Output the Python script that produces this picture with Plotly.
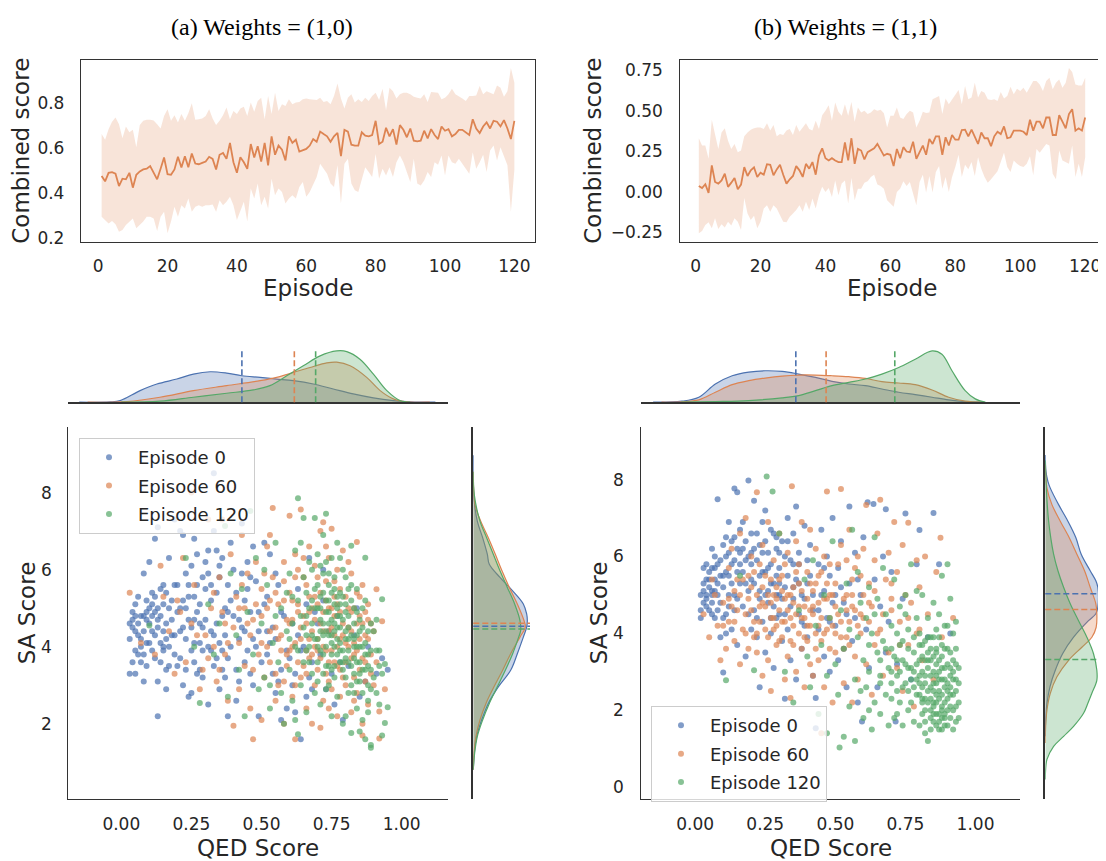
import plotly.graph_objects as go

W, H = 1106, 861          # browser window
OFF = 8                   # default page margin around the figure
FW, FH = W - OFF, H - OFF  # figure size
BLUE, ORANGE, GREEN = '#4C72B0', '#DD8452', '#55A868'
RGBA = {BLUE: '76,114,176', ORANGE: '221,132,82', GREEN: '85,168,104'}
TXT = '#262626'
SPINE = '#333333'
FONT = 'DejaVu Sans'

# ---------------- data: combined score curves ----------------
episodes = list(range(1, 121))

mean_a = [0.474, 0.45, 0.488, 0.491, 0.484, 0.429, 0.462, 0.459, 0.488, 0.422,
          0.479, 0.494, 0.503, 0.506, 0.518, 0.491, 0.459, 0.506, 0.556, 0.482,
          0.479, 0.503, 0.559, 0.512, 0.562, 0.513, 0.574, 0.529, 0.526, 0.532,
          0.538, 0.559, 0.55, 0.503, 0.568, 0.576, 0.55, 0.621, 0.535, 0.488,
          0.557, 0.535, 0.506, 0.616, 0.556, 0.606, 0.538, 0.621, 0.521, 0.65,
          0.568, 0.609, 0.591, 0.543, 0.65, 0.621, 0.635, 0.582, 0.587, 0.594,
          0.609, 0.638, 0.626, 0.671, 0.66, 0.65, 0.626, 0.65, 0.665, 0.562,
          0.679, 0.671, 0.613, 0.609, 0.609, 0.668, 0.653, 0.65, 0.656, 0.719,
          0.616, 0.626, 0.688, 0.65, 0.682, 0.613, 0.7, 0.679, 0.646, 0.685,
          0.631, 0.628, 0.631, 0.675, 0.641, 0.682, 0.656, 0.638, 0.694, 0.675,
          0.682, 0.65, 0.66, 0.679, 0.679, 0.668, 0.656, 0.726, 0.685, 0.665,
          0.694, 0.712, 0.685, 0.719, 0.715, 0.694, 0.722, 0.685, 0.638, 0.719]
upper_a = [0.66, 0.635, 0.682, 0.715, 0.734, 0.704, 0.641, 0.694, 0.668, 0.679,
           0.601, 0.7, 0.719, 0.724, 0.724, 0.721, 0.704, 0.685, 0.741, 0.771,
           0.719, 0.744, 0.712, 0.749, 0.719, 0.753, 0.797, 0.724, 0.726, 0.729,
           0.741, 0.771, 0.729, 0.7, 0.719, 0.744, 0.778, 0.726, 0.763, 0.749,
           0.774, 0.782, 0.741, 0.8, 0.759, 0.807, 0.822, 0.726, 0.829, 0.749,
           0.844, 0.763, 0.793, 0.785, 0.815, 0.793, 0.8, 0.803, 0.815, 0.818,
           0.815, 0.815, 0.812, 0.822, 0.803, 0.807, 0.793, 0.829, 0.885, 0.818,
           0.774, 0.822, 0.837, 0.8, 0.815, 0.803, 0.822, 0.807, 0.829, 0.844,
           0.812, 0.862, 0.766, 0.866, 0.851, 0.818, 0.837, 0.844, 0.844, 0.837,
           0.826, 0.822, 0.818, 0.837, 0.803, 0.847, 0.844, 0.844, 0.815, 0.822,
           0.837, 0.862, 0.837, 0.829, 0.818, 0.807, 0.829, 0.829, 0.832, 0.874,
           0.837, 0.851, 0.844, 0.837, 0.876, 0.866, 0.826, 0.851, 0.954, 0.888]
lower_a = [0.293, 0.278, 0.263, 0.274, 0.259, 0.226, 0.234, 0.256, 0.271, 0.285,
           0.241, 0.256, 0.271, 0.293, 0.293, 0.285, 0.229, 0.293, 0.315, 0.219,
           0.271, 0.337, 0.293, 0.344, 0.329, 0.374, 0.315, 0.337, 0.344, 0.337,
           0.344, 0.344, 0.347, 0.315, 0.366, 0.344, 0.359, 0.381, 0.344, 0.278,
           0.315, 0.359, 0.271, 0.418, 0.374, 0.44, 0.344, 0.381, 0.329, 0.462,
           0.388, 0.418, 0.403, 0.351, 0.374, 0.388, 0.374, 0.425, 0.447, 0.381,
           0.403, 0.44, 0.469, 0.528, 0.506, 0.484, 0.44, 0.425, 0.521, 0.351,
           0.528, 0.55, 0.44, 0.41, 0.403, 0.462, 0.513, 0.491, 0.469, 0.572,
           0.462, 0.506, 0.476, 0.513, 0.469, 0.535, 0.565, 0.535, 0.488, 0.447,
           0.55, 0.44, 0.432, 0.454, 0.491, 0.469, 0.535, 0.524, 0.565, 0.476,
           0.565, 0.535, 0.528, 0.55, 0.528, 0.506, 0.484, 0.579, 0.506, 0.535,
           0.568, 0.491, 0.587, 0.609, 0.543, 0.601, 0.565, 0.521, 0.315, 0.50]

mean_b = [0.037, 0.024, 0.047, -0.006, 0.163, 0.061, 0.051, 0.071, 0.112, 0.031,
          0.057, 0.086, 0.016, 0.045, 0.153, 0.098, 0.133, 0.151, 0.092, 0.118,
          0.106, 0.171, 0.167, 0.102, 0.139, 0.167, 0.106, 0.051, 0.078, 0.098,
          0.159, 0.133, 0.092, 0.173, 0.143, 0.184, 0.106, 0.224, 0.269, 0.208,
          0.194, 0.208, 0.194, 0.184, 0.184, 0.306, 0.194, 0.331, 0.173, 0.265,
          0.255, 0.2, 0.245, 0.255, 0.269, 0.296, 0.255, 0.224, 0.235, 0.229,
          0.159, 0.265, 0.208, 0.276, 0.249, 0.245, 0.31, 0.204, 0.245, 0.286,
          0.229, 0.327, 0.296, 0.343, 0.343, 0.229, 0.337, 0.286, 0.351, 0.322,
          0.322, 0.382, 0.384, 0.343, 0.384, 0.343, 0.296, 0.367, 0.331, 0.331,
          0.282, 0.343, 0.371, 0.357, 0.404, 0.331, 0.337, 0.378, 0.378, 0.378,
          0.371, 0.351, 0.445, 0.378, 0.433, 0.433, 0.392, 0.459, 0.459, 0.351,
          0.351, 0.473, 0.433, 0.392, 0.48, 0.51, 0.378, 0.392, 0.378, 0.459]
upper_b = [0.331, 0.286, 0.286, 0.204, 0.445, 0.357, 0.265, 0.367, 0.392, 0.316,
           0.265, 0.296, 0.245, 0.255, 0.343, 0.367, 0.384, 0.392, 0.398, 0.398,
           0.388, 0.424, 0.378, 0.412, 0.343, 0.357, 0.351, 0.378, 0.388, 0.351,
           0.412, 0.371, 0.398, 0.424, 0.388, 0.378, 0.439, 0.388, 0.473, 0.5,
           0.535, 0.439, 0.551, 0.494, 0.469, 0.541, 0.469, 0.555, 0.433, 0.52,
           0.49, 0.5, 0.48, 0.49, 0.51, 0.5, 0.506, 0.485, 0.398, 0.469,
           0.47, 0.52, 0.459, 0.449, 0.48, 0.5, 0.49, 0.398, 0.439, 0.494,
           0.486, 0.49, 0.571, 0.582, 0.592, 0.48, 0.576, 0.541, 0.571, 0.596,
           0.629, 0.541, 0.653, 0.571, 0.582, 0.673, 0.582, 0.622, 0.612, 0.571,
           0.567, 0.571, 0.561, 0.616, 0.576, 0.592, 0.649, 0.602, 0.637, 0.622,
           0.643, 0.612, 0.653, 0.684, 0.684, 0.663, 0.622, 0.684, 0.704, 0.633,
           0.673, 0.694, 0.643, 0.673, 0.765, 0.739, 0.663, 0.657, 0.657, 0.704]
lower_b = [-0.255, -0.241, -0.204, -0.188, -0.224, -0.163, -0.229, -0.2, -0.22, -0.184,
           -0.208, -0.163, -0.184, -0.235, -0.037, -0.133, -0.173, -0.147, -0.224, -0.184,
           -0.102, -0.082, -0.122, -0.082, -0.102, -0.139, -0.184, -0.188, -0.153, -0.133,
           -0.112, -0.082, -0.122, -0.061, -0.112, -0.041, -0.102, -0.02, 0.031, 0.0,
           0.024, -0.031, 0.071, -0.02, 0.051, 0.071, -0.071, 0.086, -0.051, 0.02,
           0.02, 0.057, 0.065, 0.092, 0.106, 0.045, 0.037, 0.02, -0.051, -0.071,
           -0.092, 0.0, 0.02, 0.065, 0.037, 0.061, -0.01, -0.082, 0.061, 0.106,
           -0.004, 0.098, -0.004, 0.122, 0.159, 0.02, 0.092, 0.0, 0.092, 0.153,
           0.229, 0.092, 0.167, 0.139, 0.184, 0.098, 0.214, 0.143, 0.092, 0.057,
           0.078, 0.106, 0.127, 0.184, 0.241, 0.153, 0.122, 0.194, 0.173, 0.159,
           0.153, 0.173, 0.22, 0.102, 0.265, 0.241, 0.265, 0.296, 0.286, 0.112,
           0.078, 0.255, 0.194, 0.184, 0.173, 0.286, 0.092, 0.173, 0.092, 0.214]

# ---------------- data: QED / SA samples (panel a) ----------------
a_ep0 = [(0.03,4.2),(0.03,3.3),(0.05,3.3),(0.04,4.9),(0.06,4.6),(0.07,4.0),(0.08,5.9),(0.05,4.4),(0.09,4.7),(0.07,3.6),(0.09,5.2),(0.08,3.1),
         (0.04,4.5),(0.06,4.3),(0.08,4.8),(0.10,4.6),(0.12,4.3),(0.14,4.8),(0.16,4.2),(0.05,3.9),(0.09,4.1),(0.13,5.0),
         (0.10,6.2),(0.12,6.8),(0.13,7.1),(0.13,2.2),(0.11,4.4),(0.12,4.9),(0.14,4.1),(0.15,5.6),(0.16,4.6),(0.17,3.5),(0.18,5.2),(0.19,7.3),(0.13,3.1),(0.15,3.9),(0.17,6.3),(0.11,5.4),(0.19,4.3),(0.16,2.9),
         (0.21,7.0),(0.22,6.9),(0.23,5.9),(0.24,4.7),(0.25,3.9),(0.26,5.3),(0.27,6.4),(0.28,4.1),(0.22,3.0),(0.24,2.7),(0.29,5.8),(0.21,4.4),(0.26,6.8),(0.28,3.4),(0.23,5.0),(0.27,4.9),(0.25,2.8),(0.29,4.5),(0.20,5.6),(0.26,3.6),
         (0.31,6.5),(0.32,5.2),(0.33,4.3),(0.34,3.7),(0.35,6.1),(0.36,4.8),(0.37,3.2),(0.38,5.6),(0.39,4.0),(0.31,2.5),(0.33,7.0),(0.35,2.9),(0.37,5.0),(0.39,6.7),(0.34,4.6),(0.36,3.4),(0.32,3.9),(0.38,2.2),(0.30,5.5),(0.35,5.8),(0.33,8.5),
         (0.41,5.4),(0.42,4.2),(0.43,7.2),(0.44,3.6),(0.45,6.2),(0.46,4.9),(0.47,3.0),(0.48,5.7),(0.49,4.4),(0.41,2.6),(0.43,5.9),(0.45,3.9),(0.47,6.6),(0.49,2.2),(0.42,4.7),(0.44,5.2),(0.46,3.3),(0.48,4.0),(0.40,6.0),
         (0.51,5.1),(0.52,3.8),(0.53,6.4),(0.54,4.5),(0.55,2.8),(0.56,5.6),(0.57,3.4),(0.58,4.8),(0.59,2.4),(0.51,6.7),(0.53,4.1),(0.55,5.9),(0.57,2.1),(0.59,3.9),(0.52,4.4),(0.56,3.1),
         (0.61,4.6),(0.62,3.3),(0.63,5.5),(0.64,1.6),(0.65,4.0),(0.66,2.7),(0.67,6.3),(0.68,3.6),(0.69,4.9),(0.62,2.3),(0.64,3.9),(0.66,5.1),(0.68,2.9),
         (0.71,3.8),(0.72,5.2),(0.73,2.9),(0.74,4.4),(0.75,3.3),(0.76,2.5),(0.77,4.8),(0.78,3.6),(0.79,2.1),(0.72,6.0),
         (0.81,3.5),(0.83,4.3),(0.85,2.7),(0.87,3.1),(0.88,4.0),(0.84,5.0),(0.91,3.3),(0.93,3.7),(0.95,3.4),
         (0.04,4.7),(0.05,5.1),(0.06,3.8),(0.07,4.8),(0.08,4.4),(0.09,3.5),(0.10,5.0),(0.11,3.9),(0.11,4.8),(0.12,5.3),(0.13,4.5),(0.14,3.6),(0.15,4.4),(0.15,5.1),(0.16,5.4),(0.17,4.0),(0.18,4.7),(0.19,3.8),(0.20,4.9),(0.21,3.7),(0.22,5.2),(0.23,4.2),(0.24,5.6),(0.25,4.5),(0.26,4.1),(0.27,3.3),(0.28,5.1),(0.29,3.9),(0.30,4.7),(0.31,5.9),(0.32,4.4),(0.33,3.5),(0.34,5.4),(0.35,4.1),(0.36,6.3),(0.37,4.3),(0.38,3.7),(0.40,4.8),(0.41,3.4),(0.43,4.5),(0.45,5.5),(0.47,4.2),(0.50,3.6),(0.52,5.3),(0.54,3.3),(0.57,4.9),(0.60,3.7),(0.63,4.3),(0.67,3.2),(0.70,4.6),
         (0.03,4.6),(0.04,3.6),(0.05,4.8),(0.06,5.3),(0.07,4.2),(0.08,3.8),(0.09,4.9),(0.10,4.1),(0.11,5.1),(0.12,3.7),(0.13,4.7),(0.14,5.5),(0.15,4.0),(0.16,3.4),(0.17,5.0),(0.18,4.3),(0.19,5.6),(0.20,3.5),(0.21,5.0),(0.22,4.5),(0.23,3.4),(0.24,5.3),(0.25,6.1),(0.26,4.7),(0.27,5.6),(0.28,4.6),(0.29,3.2),(0.30,6.2),(0.31,4.0),(0.32,5.6),(0.34,6.5),(0.36,3.9),(0.38,4.9),(0.39,5.2),(0.42,3.1),(0.44,4.4),(0.46,5.8),(0.49,4.9),(0.55,4.2),(0.61,3.0)]
a_ep60 = [(0.03,5.4),(0.07,4.1),
          (0.12,3.8),(0.15,5.3),(0.17,4.4),(0.19,3.3),(0.14,6.1),
          (0.21,4.9),(0.23,3.6),(0.25,8.0),(0.26,5.6),(0.27,4.3),(0.28,2.9),(0.22,6.3),(0.29,3.4),
          (0.31,7.3),(0.32,5.0),(0.33,4.0),(0.34,3.1),(0.35,5.8),(0.36,7.3),(0.37,4.6),(0.38,2.6),(0.39,6.4),(0.31,3.7),(0.36,4.9),
          (0.40,1.95),(0.41,5.3),(0.42,4.1),(0.43,6.9),(0.44,3.5),(0.45,5.9),(0.46,2.4),(0.47,1.6),(0.47,4.7),(0.48,6.2),(0.49,3.8),(0.42,2.9),(0.44,5.0),(0.46,4.3),
          (0.50,5.5),(0.51,3.2),(0.52,6.6),(0.53,4.4),(0.54,7.6),(0.55,2.6),(0.56,5.1),(0.57,3.9),(0.58,6.2),(0.59,4.7),(0.50,2.1),(0.52,4.0),(0.54,5.8),(0.56,3.0),(0.58,2.0),(0.53,6.9),(0.55,4.5),(0.59,3.5),
          (0.60,7.4),(0.61,5.2),(0.62,1.6),(0.62,4.1),(0.63,6.0),(0.64,7.56),(0.64,3.2),(0.65,4.8),(0.66,2.4),(0.66,5.6),(0.67,3.7),(0.67,6.6),(0.68,4.4),(0.68,2.0),(0.69,5.3),(0.69,3.0),(0.60,4.6),(0.61,2.7),(0.63,3.6),(0.65,6.3),(0.67,4.9),(0.69,4.0),(0.62,5.8),(0.66,3.3),
          (0.70,5.8),(0.70,3.4),(0.71,4.6),(0.71,7.0),(0.72,7.23),(0.72,2.6),(0.73,5.2),(0.73,3.9),(0.74,4.4),(0.74,6.3),(0.75,7.06),(0.75,2.9),(0.75,5.0),(0.76,3.6),(0.76,4.8),(0.77,6.0),(0.77,2.2),(0.78,4.2),(0.78,5.5),(0.79,3.2),(0.79,6.5),(0.70,4.2),(0.72,4.9),(0.74,3.1),(0.76,5.7),(0.78,2.7),(0.71,1.9),(0.73,6.6),(0.77,4.0),
          (0.80,5.3),(0.80,3.0),(0.81,4.5),(0.81,6.2),(0.82,3.7),(0.82,2.3),(0.83,5.0),(0.83,4.1),(0.84,6.72),(0.84,2.8),(0.85,4.8),(0.85,3.4),(0.86,5.6),(0.86,2.0),(0.87,4.3),(0.87,3.1),(0.88,5.1),(0.88,2.5),(0.89,3.8),(0.89,4.6),(0.82,5.9),(0.84,3.9),(0.86,1.7),
          (0.91,5.49),(0.92,1.62),(0.92,2.32),(0.93,4.66),(0.91,3.6),(0.94,2.9),
          (0.45,4.6),(0.48,5.1),(0.50,4.1),(0.52,5.0),(0.53,3.6),(0.55,5.4),(0.57,4.3),(0.58,5.2),(0.60,3.9),(0.61,4.7),(0.62,6.4),(0.63,4.9),(0.64,4.2),(0.65,3.5),(0.66,4.6),(0.67,5.3),(0.68,3.8),(0.69,6.1),(0.70,5.1),(0.71,3.7),(0.72,4.0),(0.73,5.7),(0.74,3.6),(0.75,4.5),(0.76,4.3),(0.77,5.1),(0.78,3.4),(0.79,4.6),(0.80,4.1),(0.81,5.0),(0.82,4.4),(0.83,3.2),(0.84,4.6),(0.85,5.3),(0.86,3.7),(0.87,4.9),(0.88,4.2),(0.89,3.3),(0.90,4.4),(0.30,4.3),(0.33,5.4),(0.37,3.8),(0.40,4.5),(0.43,5.6),(0.25,4.6),(0.20,5.2),(0.35,3.4),(0.58,3.1),(0.74,2.4),(0.83,2.6),
          (0.47,3.4),(0.50,4.8),(0.51,5.9),(0.53,5.2),(0.55,3.3),(0.56,4.2),(0.58,5.7),(0.59,3.8),(0.60,5.4),(0.61,4.0),(0.62,3.0),(0.63,5.1),(0.64,4.5),(0.65,5.8),(0.66,3.9),(0.67,4.2),(0.68,5.0),(0.69,4.7),(0.70,3.9),(0.71,5.4),(0.72,4.4),(0.73,3.3),(0.74,5.0),(0.75,3.9),(0.76,5.3),(0.77,3.5),(0.78,4.9),(0.79,4.3),(0.80,3.6),(0.81,4.0),(0.82,4.9),(0.83,3.8),(0.84,5.4),(0.85,4.2),(0.86,4.6),(0.87,3.6),(0.88,4.7),(0.90,3.0),(0.38,4.1),(0.42,5.0)]
a_ep120 = [(0.10,4.55),(0.23,6.3),(0.28,2.54),(0.26,4.0),
           (0.37,7.13),(0.31,5.1),(0.33,3.8),(0.35,4.6),(0.38,2.7),(0.39,5.9),
           (0.46,7.52),(0.41,4.3),(0.42,3.4),(0.43,5.5),(0.44,2.2),(0.45,4.9),(0.47,3.8),(0.48,6.3),(0.49,2.9),
           (0.50,4.6),(0.51,3.2),(0.52,5.6),(0.53,2.4),(0.54,4.1),(0.55,6.7),(0.56,3.6),(0.57,5.0),(0.58,2.0),(0.59,4.4),(0.51,6.0),(0.53,3.0),(0.55,4.8),(0.57,2.8),(0.59,5.4),
           (0.60,5.9),(0.60,3.4),(0.61,4.6),(0.61,2.6),(0.62,6.5),(0.62,4.0),(0.63,7.85),(0.63,1.73),(0.63,5.2),(0.64,3.0),(0.64,4.8),(0.65,7.34),(0.65,5.8),(0.65,3.6),(0.66,4.3),(0.66,2.3),(0.67,6.2),(0.67,5.0),(0.68,3.3),(0.68,4.6),(0.69,7.34),(0.69,5.5),(0.69,2.8),(0.61,5.3),(0.64,6.7),(0.66,3.9),(0.68,6.0),(0.62,2.1),
           (0.70,4.2),(0.70,6.4),(0.70,3.1),(0.71,5.3),(0.71,4.7),(0.71,2.5),(0.72,5.9),(0.72,3.8),(0.72,6.9),(0.73,7.45),(0.73,4.4),(0.73,2.9),(0.74,5.6),(0.74,3.5),(0.74,4.9),(0.75,6.3),(0.75,4.1),(0.75,2.2),(0.76,5.1),(0.76,3.2),(0.76,5.8),(0.77,4.5),(0.77,6.7),(0.77,2.7),(0.78,3.9),(0.78,5.4),(0.78,4.8),(0.79,3.4),(0.79,6.0),(0.79,2.0),(0.70,5.0),(0.72,4.6),(0.74,3.0),(0.76,4.0),(0.78,3.6),(0.71,6.1),(0.73,5.2),(0.75,4.7),(0.77,5.3),
           (0.80,4.9),(0.80,3.7),(0.80,5.8),(0.81,4.2),(0.81,2.8),(0.82,6.62),(0.82,1.76),(0.82,5.2),(0.83,3.3),(0.83,4.6),(0.84,5.5),(0.84,2.4),(0.85,1.8),(0.85,4.0),(0.85,3.1),(0.86,5.0),(0.86,2.1),(0.87,1.6),(0.87,3.8),(0.87,6.31),(0.88,4.4),(0.88,2.6),(0.89,1.38),(0.89,1.45),(0.89,3.4),(0.81,5.5),(0.83,4.0),(0.84,3.6),(0.86,4.5),(0.88,3.0),(0.80,2.2),
           (0.93,5.23),(0.94,2.02),(0.95,2.43),(0.94,3.55),(0.91,2.8),(0.92,3.9),(0.93,1.7),(0.91,4.7),
           (0.65,4.5),(0.66,5.4),(0.67,4.0),(0.68,5.2),(0.69,4.2),(0.70,5.6),(0.70,3.6),(0.71,4.4),(0.72,5.4),(0.72,3.3),(0.73,4.0),(0.73,6.2),(0.74,4.3),(0.74,5.2),(0.75,3.8),(0.75,5.4),(0.76,4.6),(0.76,3.5),(0.77,4.2),(0.77,5.0),(0.78,4.5),(0.78,6.3),(0.79,3.9),(0.79,5.3),(0.80,4.4),(0.80,3.2),(0.81,4.8),(0.81,3.6),(0.82,4.3),(0.82,3.0),(0.83,5.0),(0.83,2.8),(0.84,4.3),(0.84,3.1),(0.85,4.4),(0.85,3.6),(0.86,4.0),(0.86,2.8),(0.87,3.4),(0.87,5.2),(0.88,3.8),(0.88,2.3),(0.89,4.6),(0.89,2.9),(0.90,3.2),(0.91,3.9),(0.92,2.5),(0.93,3.3),(0.60,4.2),(0.63,3.9),
           (0.66,4.8),(0.67,3.6),(0.68,4.3),(0.69,5.0),(0.70,4.0),(0.71,5.0),(0.71,3.9),(0.72,4.3),(0.73,4.9),(0.73,3.5),(0.74,4.6),(0.74,5.9),(0.75,4.3),(0.75,3.4),(0.76,4.4),(0.76,5.5),(0.77,3.8),(0.77,4.8),(0.78,4.1),(0.78,5.1),(0.79,4.7),(0.79,3.6),(0.80,5.1),(0.80,4.2),(0.81,3.9),(0.81,4.5),(0.82,5.6),(0.82,3.5),(0.83,4.2),(0.83,3.7),(0.84,4.9),(0.84,4.0),(0.85,3.3),(0.85,4.7),(0.86,3.4),(0.87,4.1),(0.88,3.5),(0.89,3.9),(0.90,4.4),(0.92,3.5)]

# ---------------- data: QED / SA samples (panel b) ----------------
b_ep0 = [(0.02,4.6),(0.03,5.3),(0.04,4.9),(0.05,5.6),(0.06,5.1),(0.07,4.4),(0.08,5.8),(0.09,4.8),(0.06,6.2),(0.08,7.49),(0.09,3.9),(0.04,5.0),(0.07,5.4),
         (0.10,2.98),(0.10,5.2),(0.11,6.0),(0.11,4.5),(0.12,6.9),(0.12,5.5),(0.13,4.1),(0.13,6.4),(0.14,7.77),(0.14,5.0),(0.15,7.67),(0.15,3.7),(0.16,5.8),(0.16,6.7),(0.17,4.7),(0.17,6.2),(0.18,5.3),(0.18,3.4),(0.19,7.98),(0.19,6.0),(0.11,4.0),(0.14,5.9),
         (0.20,5.4),(0.20,6.6),(0.21,7.45),(0.21,4.6),(0.22,5.9),(0.22,3.9),(0.23,6.3),(0.23,5.1),(0.24,4.3),(0.24,6.9),(0.25,5.6),(0.25,3.5),(0.26,4.8),(0.26,6.1),(0.27,5.3),(0.27,4.0),(0.28,6.6),(0.28,3.1),(0.29,5.0),(0.29,4.4),(0.20,4.1),(0.23,2.6),(0.25,7.2),(0.27,5.8),(0.29,6.2),
         (0.30,5.7),(0.30,4.5),(0.31,6.4),(0.31,3.8),(0.32,5.2),(0.33,7.0),(0.33,4.1),(0.34,5.9),(0.34,3.3),(0.35,4.9),(0.35,6.6),(0.36,5.4),(0.36,2.8),(0.37,4.5),(0.37,6.1),(0.38,3.6),(0.38,5.0),(0.39,6.8),(0.39,4.2),(0.32,2.3),(0.36,7.3),(0.30,5.0),(0.34,4.7),
         (0.40,5.3),(0.40,3.9),(0.41,6.3),(0.42,4.6),(0.42,2.9),(0.43,2.32),(0.43,1.53),(0.44,5.8),(0.44,4.1),(0.45,6.7),(0.46,3.4),(0.46,5.1),(0.47,4.4),(0.47,6.0),(0.48,3.0),(0.48,5.5),(0.49,4.8),(0.49,7.0),
         (0.50,4.2),(0.51,5.7),(0.51,3.3),(0.52,6.4),(0.53,4.8),(0.54,2.6),(0.55,5.3),(0.55,7.3),(0.56,3.8),(0.57,6.1),(0.57,4.4),(0.58,2.2),(0.59,5.0),(0.595,1.71),(0.53,3.6),
         (0.60,6.5),(0.61,4.1),(0.615,7.41),(0.62,3.1),(0.636,7.37),(0.64,5.4),(0.65,2.6),(0.66,4.7),(0.67,6.0),(0.68,3.5),(0.68,7.23),(0.69,4.3),
         (0.70,5.6),(0.715,1.71),(0.72,3.2),(0.74,4.9),(0.75,7.12),(0.77,2.8),(0.79,5.8),
         (0.80,6.69),(0.83,3.9),(0.85,7.13),(0.87,5.8),(0.91,4.0),
         (0.02,5.0),(0.03,4.8),(0.03,5.7),(0.04,5.4),(0.05,4.6),(0.05,5.2),(0.06,4.8),(0.06,5.7),(0.07,5.1),(0.07,6.0),(0.08,4.6),(0.08,5.3),(0.09,5.5),(0.10,4.4),(0.10,6.3),(0.11,5.6),(0.12,4.7),(0.12,6.1),(0.13,5.3),(0.14,6.5),(0.15,4.9),(0.15,6.2),(0.16,5.3),(0.17,6.9),(0.18,5.9),(0.19,4.5),(0.20,6.1),(0.21,5.3),(0.22,6.6),(0.23,4.9),(0.24,5.6),(0.25,6.4),(0.26,5.1),(0.27,6.7),(0.28,4.7),(0.29,5.5),(0.30,6.1),(0.31,4.9),(0.32,6.0),(0.33,5.5),(0.35,5.8),(0.37,5.3),(0.38,4.3),(0.40,5.9),(0.42,5.0),(0.44,4.6),(0.46,5.7),(0.50,5.0),(0.54,4.5),(0.58,5.4),
         (0.02,4.4),(0.03,5.1),(0.04,5.8),(0.04,4.7),(0.05,5.4),(0.06,4.5),(0.06,5.0),(0.07,5.7),(0.08,5.0),(0.09,5.9),(0.10,5.5),(0.11,6.5),(0.12,5.0),(0.13,5.8),(0.14,4.6),(0.15,5.6),(0.16,6.1),(0.17,5.6),(0.18,6.4),(0.19,5.1),(0.20,5.8),(0.21,6.2),(0.22,4.4),(0.23,5.5),(0.24,6.1),(0.25,5.0),(0.26,5.7),(0.27,4.4),(0.28,5.3),(0.29,6.5),(0.30,5.3),(0.32,4.5),(0.33,6.4),(0.35,5.2),(0.37,5.8),(0.39,4.9),(0.41,5.5),(0.45,5.0),(0.48,4.3),(0.52,5.2)]
b_ep60 = [(0.03,4.5),(0.05,3.9),(0.06,5.4),(0.08,4.2),(0.09,3.3),(0.07,5.0),
          (0.10,4.8),(0.11,3.6),(0.12,5.7),(0.12,4.3),(0.13,6.2),(0.14,3.8),(0.14,5.1),(0.15,4.6),(0.16,3.2),(0.16,6.6),(0.17,5.4),(0.18,4.0),(0.18,7.0),(0.19,4.9),(0.19,3.6),
          (0.20,5.2),(0.21,4.3),(0.22,7.67),(0.22,3.5),(0.23,5.8),(0.23,4.7),(0.24,2.9),(0.24,6.3),(0.25,4.1),(0.25,5.5),(0.26,3.3),(0.26,6.9),(0.27,4.8),(0.27,2.5),(0.28,5.9),(0.28,4.4),(0.29,3.7),(0.29,5.2),(0.20,6.0),
          (0.30,4.6),(0.30,6.6),(0.31,3.9),(0.31,5.5),(0.32,2.8),(0.32,4.9),(0.33,6.1),(0.33,3.4),(0.34,2.32),(0.345,7.83),(0.35,5.2),(0.35,4.2),(0.36,6.4),(0.36,3.0),(0.37,4.7),(0.37,5.8),(0.38,3.6),(0.38,6.9),(0.39,4.4),(0.39,2.6),(0.34,5.0),
          (0.40,5.6),(0.40,3.8),(0.41,4.6),(0.41,6.7),(0.42,2.9),(0.42,5.1),(0.43,4.0),(0.43,6.2),(0.44,3.3),(0.44,5.5),(0.45,1.40),(0.45,4.4),(0.46,6.0),(0.46,2.6),(0.47,7.69),(0.47,4.9),(0.48,3.6),(0.48,5.8),(0.49,4.2),(0.49,2.2),(0.41,3.2),
          (0.50,5.3),(0.50,3.5),(0.51,4.5),(0.52,7.76),(0.52,6.3),(0.53,2.7),(0.53,4.9),(0.54,5.9),(0.54,3.9),(0.55,4.3),(0.55,6.7),(0.56,2.2),(0.56,5.0),(0.57,3.4),(0.57,4.6),(0.58,6.0),(0.58,2.8),(0.59,4.0),(0.59,5.5),
          (0.60,4.4),(0.60,6.2),(0.61,7.34),(0.61,3.2),(0.62,5.3),(0.63,2.4),(0.63,4.7),(0.64,5.9),(0.64,3.7),(0.65,6.6),(0.66,7.48),(0.66,4.1),(0.67,2.9),(0.68,5.4),(0.69,3.5),(0.69,6.1),
          (0.70,4.6),(0.71,6.9),(0.72,3.1),(0.72,5.6),(0.73,4.3),(0.74,2.5),(0.74,6.3),(0.75,5.0),(0.76,6.88),(0.76,3.7),(0.77,4.8),(0.78,2.1),(0.79,5.9),(0.79,4.0),
          (0.80,5.2),(0.81,3.3),(0.82,6.0),(0.83,4.5),(0.85,2.8),(0.86,5.6),(0.875,6.49),(0.88,3.9),(0.92,4.4),
          (0.12,4.9),(0.14,4.3),(0.16,5.0),(0.18,4.5),(0.20,4.6),(0.21,5.6),(0.22,4.0),(0.24,5.2),(0.25,4.7),(0.26,3.9),(0.27,5.4),(0.28,4.1),(0.29,4.9),(0.30,5.4),(0.31,4.3),(0.32,5.8),(0.33,4.6),(0.34,3.8),(0.35,4.8),(0.36,5.6),(0.37,4.0),(0.38,5.1),(0.39,4.7),(0.40,4.2),(0.41,5.3),(0.42,4.5),(0.43,3.6),(0.44,4.8),(0.45,5.6),(0.46,4.0),(0.47,5.3),(0.48,4.4),(0.49,5.0),(0.50,4.0),(0.51,5.8),(0.52,4.3),(0.53,3.6),(0.54,5.0),(0.55,3.7),(0.56,4.7),(0.57,5.7),(0.58,4.2),(0.60,5.0),(0.62,4.3),(0.64,5.1),(0.67,4.5),(0.70,5.3),(0.73,3.7),(0.76,4.4),(0.80,4.1),
          (0.10,4.2),(0.13,4.7),(0.15,5.4),(0.17,4.1),(0.19,5.5),(0.21,3.9),(0.22,5.0),(0.23,4.3),(0.24,4.8),(0.26,5.0),(0.27,4.4),(0.28,5.0),(0.29,4.2),(0.30,3.8),(0.31,5.1),(0.32,4.3),(0.33,5.0),(0.34,4.4),(0.35,3.7),(0.36,4.5),(0.37,5.3),(0.38,4.4),(0.39,3.9),(0.40,4.9),(0.41,4.2),(0.42,4.7),(0.43,5.3),(0.44,4.2),(0.45,3.8),(0.46,4.9),(0.47,4.1),(0.48,5.0),(0.50,4.7),(0.52,3.9),(0.54,4.6),(0.56,5.4),(0.59,4.5),(0.62,4.8),(0.65,4.0),(0.70,4.9)]
b_ep120 = [(0.11,2.78),(0.16,5.5),(0.21,3.04),(0.255,8.08),(0.276,7.69),
           (0.30,6.6),(0.32,3.0),(0.35,2.2),(0.37,4.6),(0.39,5.4),
           (0.40,3.4),(0.41,2.6),(0.42,5.9),(0.43,4.2),(0.44,1.9),(0.45,3.7),(0.46,5.0),(0.47,1.4),(0.47,2.9),(0.48,4.4),(0.49,6.4),
           (0.50,3.2),(0.51,2.4),(0.515,1.03),(0.52,4.6),(0.53,1.31),(0.53,3.6),(0.54,5.3),(0.55,2.1),(0.55,4.1),(0.56,6.7),(0.57,1.2),(0.57,2.8),(0.58,3.9),(0.58,5.6),(0.59,2.5),(0.59,4.8),
           (0.60,3.3),(0.60,1.8),(0.61,4.4),(0.61,2.6),(0.62,5.2),(0.62,3.0),(0.63,1.5),(0.63,4.0),(0.64,2.2),(0.64,6.5),(0.65,3.5),(0.65,4.9),(0.66,2.7),(0.66,1.9),(0.67,3.8),(0.67,5.7),(0.68,2.4),(0.68,4.5),(0.69,3.1),(0.69,1.6),(0.62,2.0),(0.66,3.3),
           (0.70,4.2),(0.70,2.3),(0.71,3.4),(0.71,5.4),(0.72,1.9),(0.72,2.9),(0.73,4.7),(0.73,3.7),(0.74,1.6),(0.74,2.6),(0.75,5.0),(0.75,3.2),(0.76,4.1),(0.76,2.0),(0.77,2.8),(0.77,5.8),(0.78,3.5),(0.78,1.7),(0.79,4.4),(0.79,2.4),(0.70,3.0),(0.72,4.0),(0.74,3.3),(0.76,2.5),(0.78,3.9),(0.71,1.8),(0.73,2.2),(0.75,4.5),(0.77,3.1),(0.79,5.1),
           (0.80,2.9),(0.80,4.0),(0.80,1.6),(0.81,3.4),(0.81,2.2),(0.81,5.0),(0.82,2.7),(0.82,3.8),(0.82,1.4),(0.83,3.1),(0.83,1.2),(0.83,4.4),(0.84,2.0),(0.84,2.9),(0.84,3.6),(0.85,1.7),(0.85,2.5),(0.85,4.8),(0.86,3.2),(0.86,1.9),(0.86,2.4),(0.87,3.9),(0.87,1.5),(0.87,2.8),(0.88,2.1),(0.88,3.4),(0.88,5.5),(0.89,1.6),(0.89,2.6),(0.89,4.2),(0.80,3.3),(0.82,2.3),(0.84,1.5),(0.86,3.6),(0.88,1.8),(0.81,2.6),(0.83,3.5),(0.85,2.1),(0.87,4.5),
           (0.90,2.3),(0.90,3.6),(0.91,1.8),(0.91,4.9),(0.91,2.9),(0.92,1.5),(0.92,3.3),(0.93,2.1),(0.93,4.3),(0.94,2.7),(0.94,3.1),(0.90,5.8),(0.93,1.7),
           (0.78,2.6),(0.79,3.2),(0.80,2.4),(0.80,3.7),(0.81,1.9),(0.81,3.0),(0.82,3.3),(0.82,2.0),(0.83,2.5),(0.83,3.9),(0.84,2.6),(0.84,3.3),(0.84,1.8),(0.85,3.0),(0.85,2.2),(0.85,3.9),(0.86,2.7),(0.86,1.6),(0.86,4.1),(0.87,2.3),(0.87,3.3),(0.87,1.9),(0.88,2.8),(0.88,3.7),(0.88,1.5),(0.89,2.2),(0.89,3.1),(0.89,1.9),(0.90,2.7),(0.90,1.6),(0.90,4.2),(0.91,2.4),(0.91,3.5),(0.92,2.0),(0.92,2.8),(0.92,4.0),(0.93,2.5),(0.93,3.6),(0.94,2.2),(0.94,1.8),(0.70,3.6),(0.72,2.5),(0.73,3.0),(0.75,2.7),(0.76,3.6),(0.77,2.2),(0.66,2.9),(0.68,3.6),(0.64,4.5),(0.62,3.7),
           (0.80,2.7),(0.81,3.7),(0.81,2.3),(0.82,2.9),(0.82,1.7),(0.83,2.2),(0.83,3.3),(0.84,2.3),(0.84,3.9),(0.85,2.7),(0.85,3.4),(0.85,1.9),(0.86,2.9),(0.86,2.2),(0.86,3.5),(0.87,2.5),(0.87,3.0),(0.87,1.7),(0.88,2.4),(0.88,3.1),(0.88,2.0),(0.89,2.8),(0.89,3.6),(0.89,1.8),(0.90,2.5),(0.90,3.2),(0.90,2.0),(0.91,2.6),(0.91,3.1),(0.91,2.1),(0.92,2.4),(0.92,3.0),(0.93,2.8),(0.93,3.2),(0.78,3.0),(0.79,2.8),(0.76,3.1),(0.74,3.8),(0.72,3.3),(0.70,2.7)]

# ---------------- data: marginal densities (grid, density) ----------------
a_qed_kde = {
    0: [(-0.15,0),(-0.04,1),(-0.004,5),(0.067,35),(0.127,55),(0.198,70),(0.257,85),(0.317,92),(0.376,88),(0.43,80),(0.495,75),(0.554,70),(0.614,65),(0.685,55),(0.756,40),(0.827,25),(0.899,13),(0.97,5),(1.03,1),(1.12,0)],
    60: [(-0.12,0),(0.02,2),(0.138,15),(0.257,35),(0.376,50),(0.495,65),(0.554,75),(0.614,90),(0.673,105),(0.733,119),(0.768,121),(0.816,110),(0.875,75),(0.923,35),(0.97,10),(1.018,1),(1.1,0)],
    120: [(0.0,0),(0.138,3),(0.257,15),(0.376,27),(0.471,37),(0.53,50),(0.59,80),(0.649,110),(0.709,140),(0.768,155),(0.804,153),(0.851,130),(0.899,85),(0.947,35),(0.994,5),(1.03,0)],
}
a_sa_kde = {
    0: [(8.97,0),(7.86,2),(7.26,12),(6.83,28),(6.40,42),(6.14,48),(5.80,80),(5.45,118),(5.11,150),(4.85,160),(4.68,162),(4.51,160),(4.25,150),(3.82,132),(3.39,112),(2.96,75),(2.53,45),(2.10,25),(1.67,10),(1.24,3),(0.81,0)],
    60: [(8.54,0),(7.69,5),(7.26,22),(6.83,45),(6.40,66),(5.97,86),(5.54,108),(5.11,132),(4.68,152),(4.51,156),(4.25,140),(3.82,112),(3.39,88),(2.96,62),(2.53,38),(2.10,20),(1.67,8),(1.24,2),(0.81,0)],
    120: [(8.54,0),(7.94,3),(7.26,20),(6.83,40),(6.40,60),(5.97,80),(5.54,102),(5.11,124),(4.68,140),(4.42,142),(4.25,136),(3.82,118),(3.39,96),(2.96,72),(2.53,48),(2.10,28),(1.67,12),(1.24,4),(0.81,0)],
}
b_qed_kde = {
    0: [(-0.15,0),(-0.047,3),(0.013,15),(0.072,55),(0.132,80),(0.191,91),(0.25,95),(0.31,93),(0.369,85),(0.429,75),(0.488,63),(0.548,55),(0.607,50),(0.666,40),(0.726,30),(0.785,23),(0.845,15),(0.904,7),(0.963,2),(1.023,0)],
    60: [(-0.12,0),(-0.047,1),(0.013,7),(0.072,30),(0.132,53),(0.191,65),(0.25,73),(0.31,79),(0.369,82),(0.429,82),(0.488,80),(0.548,77),(0.607,72),(0.666,62),(0.726,58),(0.785,53),(0.845,37),(0.904,15),(0.963,3),(1.023,0)],
    120: [(-0.05,0),(0.072,2),(0.191,5),(0.31,13),(0.369,20),(0.429,35),(0.488,50),(0.548,60),(0.607,70),(0.666,85),(0.726,105),(0.785,130),(0.845,155),(0.88,145),(0.916,95),(0.963,35),(0.999,10),(1.035,0)],
}
b_sa_kde = {
    0: [(8.64,0),(8.21,2),(7.95,8),(7.78,15),(7.35,40),(6.92,68),(6.49,92),(6.06,108),(5.63,135),(5.37,152),(5.20,158),(4.94,160),(4.68,158),(4.51,152),(4.33,130),(3.90,85),(3.47,52),(3.04,30),(2.61,14),(2.18,5),(1.75,1),(1.32,0)],
    60: [(8.4,0),(7.78,5),(7.35,20),(6.92,45),(6.49,72),(6.06,95),(5.63,118),(5.20,135),(4.77,152),(4.51,155),(4.16,153),(3.90,140),(3.64,110),(3.30,70),(2.87,35),(2.44,15),(2.01,5),(1.58,1),(1.15,0)],
    120: [(8.5,0),(7.78,3),(6.92,10),(6.06,25),(5.63,38),(5.20,55),(4.77,75),(4.33,100),(3.90,125),(3.47,145),(3.04,155),(2.78,155),(2.44,140),(2.18,128),(1.92,115),(1.58,85),(1.32,55),(1.06,25),(0.72,5),(0.46,1),(0.2,0)],
}

a_mean_qed = [0.430, 0.617, 0.693]
a_mean_sa = [4.53, 4.61, 4.46]
b_mean_qed = [0.359, 0.467, 0.712]
b_mean_sa = [5.03, 4.62, 3.32]

labels = ['Episode 0', 'Episode 60', 'Episode 120']
ep_keys = [0, 60, 120]
colors = [BLUE, ORANGE, GREEN]

# ---------------- figure ----------------
fig = go.Figure()

def fx(px):
    # screen pixel (in the 1106x861 window) -> paper fraction of the figure
    return (px - OFF) / FW

def fy(py):
    return 1 - (py - OFF) / FH

def rgba(c, a):
    return 'rgba(%s,%s)' % (RGBA[c], a)

# line charts
for (xa, ya, up, lo, mn) in [('x', 'y', upper_a, lower_a, mean_a),
                             ('x2', 'y2', upper_b, lower_b, mean_b)]:
    fig.add_trace(go.Scatter(x=episodes, y=up, mode='lines', line=dict(width=0, color=ORANGE),
                             showlegend=False, hoverinfo='skip', xaxis=xa, yaxis=ya))
    fig.add_trace(go.Scatter(x=episodes, y=lo, mode='lines', line=dict(width=0, color=ORANGE),
                             fill='tonexty', fillcolor=rgba(ORANGE, 0.22),
                             showlegend=False, hoverinfo='skip', xaxis=xa, yaxis=ya))
    fig.add_trace(go.Scatter(x=episodes, y=mn, mode='lines', line=dict(width=1.8, color=ORANGE),
                             showlegend=False, xaxis=xa, yaxis=ya))

panels = [
    dict(pts=[a_ep0, a_ep60, a_ep120], qk=a_qed_kde, sk=a_sa_kde, mq=a_mean_qed, ms=a_mean_sa,
         main=('x3', 'y3'), top=('x4', 'y4'), right=('x5', 'y5'), legend='legend'),
    dict(pts=[b_ep0, b_ep60, b_ep120], qk=b_qed_kde, sk=b_sa_kde, mq=b_mean_qed, ms=b_mean_sa,
         main=('x6', 'y6'), top=('x7', 'y7'), right=('x8', 'y8'), legend='legend2'),
]

shapes = []
for p in panels:
    for i, (pts, col, lab, key) in enumerate(zip(p['pts'], colors, labels, ep_keys)):
        fig.add_trace(go.Scatter(
            x=[q for q, s in pts], y=[s for q, s in pts], mode='markers', name=lab,
            marker=dict(size=6, color=col, opacity=0.7, line=dict(width=0)),
            xaxis=p['main'][0], yaxis=p['main'][1], legend=p['legend'],
            legendgroup=p['legend'] + lab))
        kq = p['qk'][key]
        fig.add_trace(go.Scatter(
            x=[g for g, d in kq], y=[d for g, d in kq], mode='lines',
            line=dict(color=col, width=1.2, shape='spline', smoothing=1.0),
            fill='tozeroy', fillcolor=rgba(col, 0.3), showlegend=False, hoverinfo='skip',
            xaxis=p['top'][0], yaxis=p['top'][1]))
        ks = p['sk'][key]
        fig.add_trace(go.Scatter(
            x=[d for g, d in ks], y=[g for g, d in ks], mode='lines',
            line=dict(color=col, width=1.2, shape='spline', smoothing=1.0),
            fill='tozerox', fillcolor=rgba(col, 0.3), showlegend=False, hoverinfo='skip',
            xaxis=p['right'][0], yaxis=p['right'][1]))
    for i, col in enumerate(colors):
        shapes.append(dict(type='line', xref=p['top'][0], yref=p['top'][1] + ' domain',
                           x0=p['mq'][i], x1=p['mq'][i], y0=0, y1=1,
                           line=dict(color=col, width=1.6, dash='6px,3px')))
        shapes.append(dict(type='line', xref=p['right'][0] + ' domain', yref=p['right'][1],
                           x0=0, x1=1, y0=p['ms'][i], y1=p['ms'][i],
                           line=dict(color=col, width=1.6, dash='6px,3px')))

tickfont = dict(family=FONT, size=17, color=TXT)
box = dict(showgrid=False, zeroline=False, showline=True, linecolor=SPINE, linewidth=1.3,
           ticks='', tickfont=tickfont)

top_y = [fy(243.3), fy(60)]
main_y = [fy(805), fy(430)]
marg_y = [fy(405), fy(351)]

legend_common = dict(xanchor='left', yanchor='top',
                     bgcolor='rgba(255,255,255,0.8)', bordercolor='#CCCCCC', borderwidth=1,
                     font=dict(family=FONT, size=18, color=TXT), itemwidth=48,
                     tracegroupgap=2, traceorder='grouped')

layout = dict(
    width=FW, height=FH, margin=dict(l=0, r=0, t=0, b=0),
    paper_bgcolor='white', plot_bgcolor='rgba(0,0,0,0)',
    showlegend=True,
    xaxis=dict(box, domain=[fx(81), fx(535)], range=[-4.95, 125.95], mirror=True,
               tickvals=[0, 20, 40, 60, 80, 100, 120], ticklabelstandoff=9, anchor='y'),
    yaxis=dict(box, domain=top_y, range=[0.182, 0.991], mirror=True,
               tickvals=[0.2, 0.4, 0.6, 0.8], tickformat='.1f', ticklabelstandoff=12, anchor='x'),
    xaxis2=dict(box, domain=[fx(679.5), fx(1104.5)], range=[-4.95, 125.95], mirror=True,
                tickvals=[0, 20, 40, 60, 80, 100, 120], ticklabelstandoff=9, anchor='y2'),
    yaxis2=dict(box, domain=top_y, range=[-0.307, 0.816], mirror=True,
                tickvals=[-0.25, 0, 0.25, 0.5, 0.75], tickformat='.2f', ticklabelstandoff=12, anchor='x2'),
    # panel a
    xaxis3=dict(box, domain=[fx(68.3), fx(448)], range=[-0.189, 1.165],
                tickvals=[0, 0.25, 0.5, 0.75, 1.0], tickformat='.2f', ticklabelstandoff=9, anchor='y3'),
    yaxis3=dict(box, domain=main_y, range=[0.04, 9.70], tickvals=[2, 4, 6, 8],
                ticklabelstandoff=12, anchor='x3'),
    xaxis4=dict(showgrid=False, zeroline=False, showline=True, linecolor=SPINE, linewidth=1.5,
                showticklabels=False, ticks='', domain=[fx(68.3), fx(448)], range=[-0.189, 1.165], anchor='y4'),
    yaxis4=dict(visible=False, domain=marg_y, range=[0, 162], anchor='x4'),
    xaxis5=dict(visible=False, domain=[fx(473.3), fx(530)], range=[0, 170], anchor='y5'),
    yaxis5=dict(showgrid=False, zeroline=False, showline=True, linecolor=SPINE, linewidth=1.5,
                showticklabels=False, ticks='', domain=main_y, range=[0.04, 9.70], anchor='x5'),
    # panel b
    xaxis6=dict(box, domain=[fx(640.5), fx(1020.4)], range=[-0.195, 1.16],
                tickvals=[0, 0.25, 0.5, 0.75, 1.0], tickformat='.2f', ticklabelstandoff=9, anchor='y6'),
    yaxis6=dict(box, domain=main_y, range=[-0.32, 9.37], tickvals=[0, 2, 4, 6, 8],
                ticklabelstandoff=12, anchor='x6'),
    xaxis7=dict(showgrid=False, zeroline=False, showline=True, linecolor=SPINE, linewidth=1.5,
                showticklabels=False, ticks='', domain=[fx(640.5), fx(1020.4)], range=[-0.195, 1.16], anchor='y7'),
    yaxis7=dict(visible=False, domain=marg_y, range=[0, 162], anchor='x7'),
    xaxis8=dict(visible=False, domain=[fx(1045.3), fx(1101.5)], range=[0, 169], anchor='y8'),
    yaxis8=dict(showgrid=False, zeroline=False, showline=True, linecolor=SPINE, linewidth=1.5,
                showticklabels=False, ticks='', domain=main_y, range=[-0.32, 9.37], anchor='x8'),
    legend=dict(legend_common, x=fx(79), y=fy(441)),
    legend2=dict(legend_common, x=fx(651), y=fy(711)),
    shapes=shapes,
)
fig.update_layout(**layout)

ann_font = dict(family=FONT, size=23, color=TXT)
annotations = [
    dict(text='(a) Weights = (1,0)', x=fx(262), y=fy(27),
         font=dict(family='Liberation Serif', size=24, color='black')),
    dict(text='(b) Weights = (1,1)', x=fx(845), y=fy(27),
         font=dict(family='Liberation Serif', size=24, color='black')),
    dict(text='Combined score', x=fx(21), y=fy(151.7), textangle=-90, font=ann_font),
    dict(text='Combined score', x=fx(593), y=fy(151.7), textangle=-90, font=ann_font),
    dict(text='Episode', x=fx(308), y=fy(290), font=ann_font),
    dict(text='Episode', x=fx(892), y=fy(290), font=ann_font),
    dict(text='SA Score', x=fx(27), y=fy(617.5), textangle=-90, font=ann_font),
    dict(text='SA Score', x=fx(599), y=fy(617.5), textangle=-90, font=ann_font),
    dict(text='QED Score', x=fx(258), y=fy(854), font=ann_font),
    dict(text='QED Score', x=fx(830.5), y=fy(854), font=ann_font),
]
for a in annotations:
    a.update(xref='paper', yref='paper', showarrow=False, xanchor='center', yanchor='middle')
fig.update_layout(annotations=annotations)

fig.write_html('out.html')
